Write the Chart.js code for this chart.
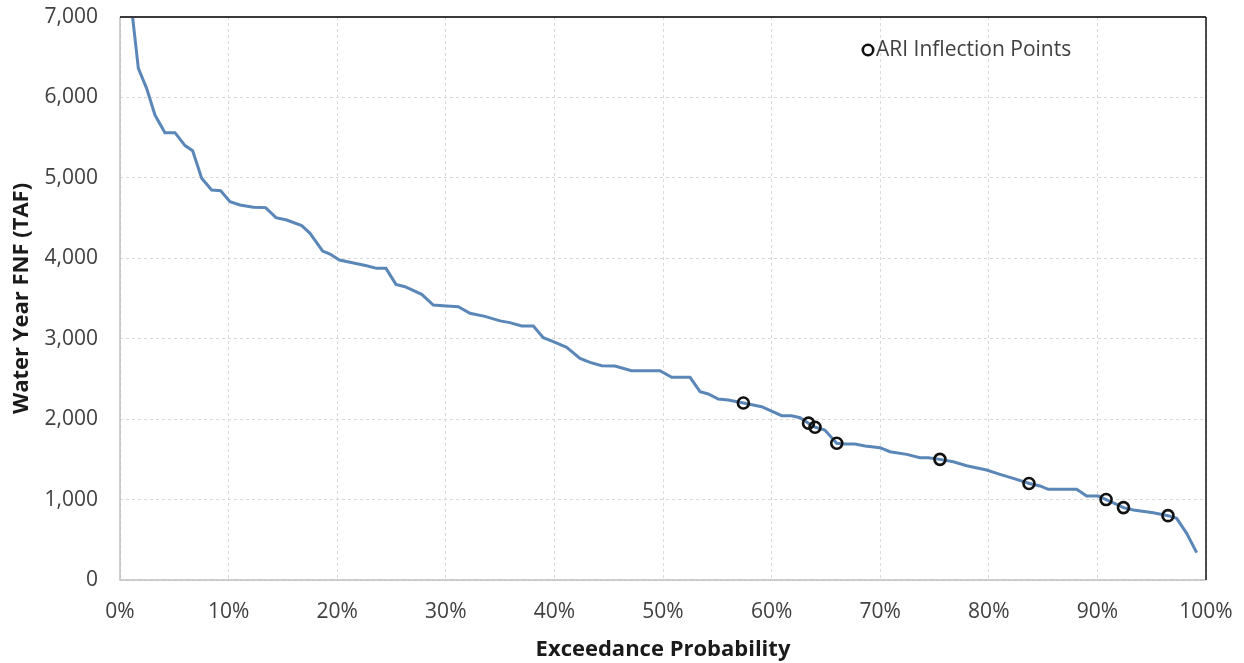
<!DOCTYPE html>
<html>
<head>
<meta charset="utf-8">
<script src="https://cdn.jsdelivr.net/npm/chart.js@4.4.0/dist/chart.umd.min.js"></script>
<style>
  html, body { margin: 0; padding: 0; background: #ffffff; }
  #wrap { width: 1244px; height: 663px; position: relative; }
</style>
</head>
<body>
<div id="wrap"><canvas id="c" width="1244" height="663"></canvas></div>
<script>
// Exceedance probability (%) of the full-natural-flow duration curve
const exceedance = [0.95,1.69,2.45,3.22,4.14,5.06,5.99,6.69,7.52,8.44,9.27,10.13,11.05,12.27,13.41,14.36,15.35,16.73,17.5,18.66,19.34,20.2,21.18,22.71,23.63,24.49,25.41,26.24,27.78,28.85,30.08,31.15,32.23,33.6,35.0,35.9,36.99,38.06,38.98,39.9,41.13,42.36,43.28,44.35,45.58,47.1,49.72,50.8,52.49,53.41,54.17,55.09,56.01,57.4,59.08,60.93,61.84,62.62,63.4,64.0,64.9,66.0,66.76,67.68,68.6,69.98,70.9,72.44,73.66,74.43,75.5,76.73,77.96,79.8,81.03,82.26,83.73,84.71,85.48,86.25,88.09,89.01,90.08,90.8,91.77,92.4,93.31,95.15,96.5,97.3,98.22,99.14];
// Water Year FNF (TAF)
const flowTAF = [7250,6362,6113,5781,5562,5562,5401,5338,4995,4849,4840,4704,4662,4634,4630,4505,4476,4406,4310,4090,4053,3979,3950,3908,3875,3875,3676,3647,3552,3419,3407,3398,3316,3278,3222,3200,3158,3158,3013,2963,2893,2756,2706,2665,2661,2603,2603,2520,2520,2342,2313,2250,2238,2200,2155,2043,2043,2018,1950,1900,1865,1700,1691,1691,1666,1645,1595,1562,1521,1521,1500,1471,1421,1368,1314,1264,1200,1169,1128,1128,1128,1044,1044,1000,941,900,870,837,800,767,580,340];
// ARI inflection points
const ariExceedance = [57.4,63.4,64.0,66.0,75.5,83.7,90.8,92.4,96.5];
const ariFlow = [2200,1950,1900,1700,1500,1200,1000,900,800];

const xTicks = [0,10,20,30,40,50,60,70,80,90,100];
const yTicks = [0,1000,2000,3000,4000,5000,6000,7000];
const legendLabel = 'ARI Inflection Points';
const xTitle = 'Exceedance Probability';
const yTitle = 'Water Year FNF (TAF)';

const FONT = '"Open Sans", "Noto Sans", sans-serif';

const curve = exceedance.map((x, i) => ({ x: x, y: flowTAF[i] }));
const ari = ariExceedance.map((x, i) => ({ x: x, y: ariFlow[i] }));

const framePlugin = {
  id: 'frame',
  afterDatasetsDraw(chart) {
    const { ctx, chartArea: a } = chart;
    ctx.save();
    ctx.strokeStyle = '#bfbfbf';
    ctx.lineWidth = 1.5;
    ctx.beginPath();
    ctx.moveTo(a.left, a.top);
    ctx.lineTo(a.left, a.bottom);
    ctx.lineTo(a.right, a.bottom);
    ctx.stroke();
    ctx.strokeStyle = '#3a3a3a';
    ctx.lineWidth = 2;
    ctx.beginPath();
    ctx.moveTo(a.left, a.top);
    ctx.lineTo(a.right, a.top);
    ctx.stroke();
    ctx.strokeStyle = '#111111';
    ctx.lineWidth = 1.5;
    ctx.beginPath();
    ctx.moveTo(a.right, a.top);
    ctx.lineTo(a.right, a.bottom);
    ctx.stroke();
    // legend
    const lx = 868, ly = 50;
    ctx.strokeStyle = '#111111';
    ctx.lineWidth = 2.6;
    ctx.beginPath();
    ctx.arc(lx, ly, 5.2, 0, Math.PI * 2);
    ctx.stroke();
    ctx.fillStyle = '#404040';
    ctx.font = '21px ' + FONT;
    ctx.textAlign = 'left';
    ctx.textBaseline = 'middle';
    ctx.fillText(legendLabel, 876, ly);
    ctx.restore();
  }
};

new Chart(document.getElementById('c'), {
  type: 'scatter',
  data: {
    datasets: [
      {
        type: 'line',
        label: 'FNF',
        data: curve,
        borderColor: '#5a86b8',
        borderWidth: 3,
        pointRadius: 0,
        tension: 0,
        fill: false,
        order: 2
      },
      {
        type: 'scatter',
        label: legendLabel,
        data: ari,
        borderColor: '#111111',
        backgroundColor: 'rgba(0,0,0,0)',
        borderWidth: 2.6,
        pointRadius: 5.5,
        order: 1
      }
    ]
  },
  options: {
    responsive: false,
    animation: false,
    layout: { padding: { top: 17, right: 38, left: 0, bottom: 0 } },
    plugins: {
      legend: { display: false },
      tooltip: { enabled: false }
    },
    scales: {
      x: {
        type: 'linear',
        min: 0, max: 100,
        afterBuildTicks(scale) { scale.ticks = xTicks.map(v => ({ value: v })); },
        afterFit(scale) { scale.height = 83; scale.paddingLeft = 0; scale.paddingRight = 0; },
        ticks: {
          callback: v => v + '%',
          color: '#404040',
          font: { family: FONT, size: 21 },
          padding: 19,
          maxRotation: 0
        },
        grid: { color: '#d9d9d9', lineWidth: 1, drawTicks: false },
        border: { display: false, dash: [3, 3] },
        title: {
          display: true,
          text: xTitle,
          color: '#1a1a1a',
          font: { family: FONT, size: 22, weight: 'bold' },
          padding: { top: 0, bottom: 0 }
        }
      },
      y: {
        type: 'linear',
        min: 0, max: 7000,
        afterBuildTicks(scale) { scale.ticks = yTicks.map(v => ({ value: v })); },
        afterFit(scale) { scale.width = 120; scale.paddingTop = 0; scale.paddingBottom = 0; },
        ticks: {
          callback: v => v.toLocaleString('en-US'),
          color: '#404040',
          font: { family: FONT, size: 21 },
          padding: 22
        },
        grid: { color: '#d9d9d9', lineWidth: 1, drawTicks: false },
        border: { display: false, dash: [3, 3] },
        title: {
          display: true,
          text: yTitle,
          color: '#1a1a1a',
          font: { family: FONT, size: 22, weight: 'bold' },
          padding: { top: 9, bottom: 0 }
        }
      }
    }
  },
  plugins: [framePlugin]
});
</script>
</body>
</html>
